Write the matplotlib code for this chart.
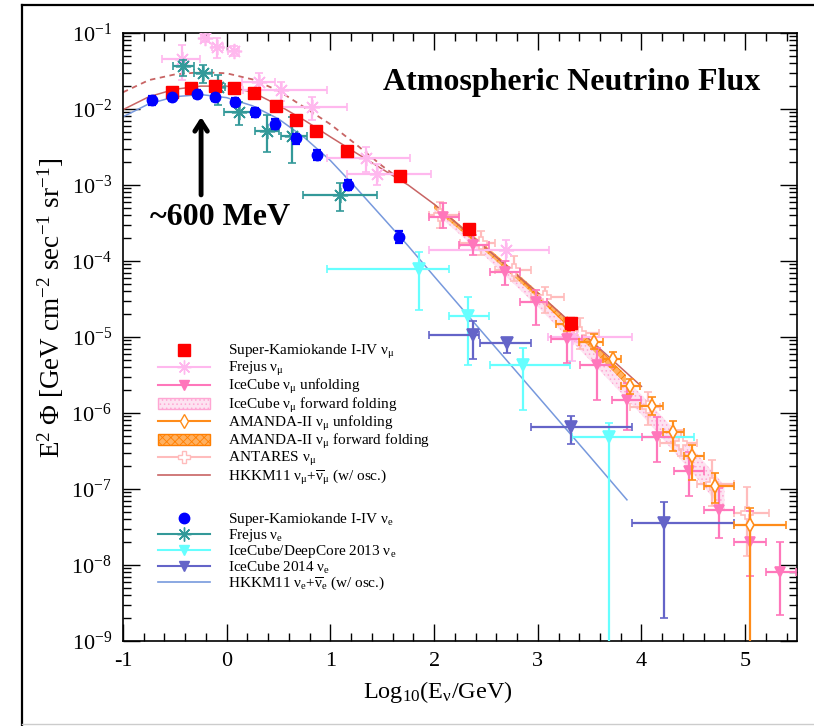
import numpy as np
import matplotlib
matplotlib.use('Agg')
import matplotlib.pyplot as plt
from matplotlib.lines import Line2D
from matplotlib.patches import Patch
import matplotlib.ticker as mticker

plt.rcParams['font.family'] = ['Liberation Serif', 'DejaVu Serif']
plt.rcParams['mathtext.fontset'] = 'custom'
plt.rcParams['mathtext.rm'] = 'Liberation Serif'
plt.rcParams['mathtext.it'] = 'Liberation Serif:italic'
plt.rcParams['mathtext.bf'] = 'Liberation Serif:bold'
plt.rcParams['hatch.linewidth'] = 0.6

# ---------------- data (x = log10(E/GeV), y = E^2 Phi) ----------------
# Super-Kamiokande I-IV nu_mu
sk_mu_x = [-0.53, -0.34, -0.11, 0.07, 0.26, 0.48, 0.67, 0.86, 1.16, 1.67, 2.34, 3.32]
sk_mu_y = [1.67e-2, 1.9e-2, 2.0e-2, 1.9e-2, 1.6e-2, 1.1e-2, 7.2e-3, 5.1e-3, 2.8e-3, 1.3e-3, 2.65e-4, 1.52e-5]
sk_mu_relerr = [0.13, 0.12, 0.12, 0.12, 0.12, 0.13, 0.14, 0.14, 0.13, 0.12, 0.14, 0.18]

# Super-Kamiokande I-IV nu_e
sk_e_x = [-0.72, -0.53, -0.29, -0.11, 0.08, 0.27, 0.47, 0.67, 0.87, 1.17, 1.66]
sk_e_y = [1.31e-2, 1.45e-2, 1.58e-2, 1.44e-2, 1.25e-2, 9.1e-3, 6.4e-3, 4.1e-3, 2.5e-3, 1.0e-3, 2.1e-4]
sk_e_relerr = [0.14, 0.12, 0.12, 0.12, 0.12, 0.13, 0.14, 0.15, 0.15, 0.15, 0.17]

# Frejus nu_mu
fr_mu_x = [-0.43, -0.21, -0.09, 0.07, 0.31, 0.52, 0.82, 1.34, 1.45, 2.69, 3.33]
fr_mu_y = [4.6e-2, 8.5e-2, 6.6e-2, 5.8e-2, 2.28e-2, 1.78e-2, 1.07e-2, 2.25e-3, 1.4e-3, 1.4e-4, 1.0e-5]
fr_mu_xlo = [-0.62, -0.25, -0.14, 0.01, 0.15, 0.16, 0.53, 0.97, 1.16, 1.95, 3.10]
fr_mu_xhi = [-0.26, -0.17, -0.04, 0.12, 0.47, 0.97, 1.16, 1.77, 1.97, 3.11, 3.91]
fr_mu_ylo = [2.4e-2, 7.5e-2, 4.65e-2, 5.0e-2, 1.78e-2, 1.27e-2, 7.2e-3, 1.5e-3, 1.0e-3, 1.0e-4, 4.8e-6]
fr_mu_yhi = [6.95e-2, 9.8e-2, 8.7e-2, 6.8e-2, 2.95e-2, 2.29e-2, 1.45e-2, 3.2e-3, 1.9e-3, 1.9e-4, 1.66e-5]

# Frejus nu_e
fr_e_x = [-0.42, -0.23, -0.08, 0.12, 0.39, 0.63, 1.09]
fr_e_y = [3.63e-2, 2.95e-2, 1.95e-2, 9.1e-3, 5.1e-3, 4.4e-3, 7.4e-4]
fr_e_xlo = [-0.52, -0.32, -0.13, -0.03, 0.27, 0.52, 0.74]
fr_e_xhi = [-0.32, -0.14, -0.02, 0.23, 0.50, 0.77, 1.45]
fr_e_ylo = [2.7e-2, 2.2e-2, 1.12e-2, 6.2e-3, 2.75e-3, 1.95e-3, 4.5e-4]
fr_e_yhi = [4.4e-2, 3.8e-2, 2.8e-2, 1.25e-2, 8.3e-3, 7.9e-3, 1.05e-3]

# IceCube/DeepCore 2013 nu_e
dc_x = [1.85, 2.33, 2.86, 3.69]
dc_y = [7.9e-5, 1.9e-5, 4.3e-6, 4.9e-7]
dc_xlo = [0.97, 2.14, 2.54, 3.33]
dc_xhi = [2.14, 2.53, 3.31, 4.51]
dc_ylo = [2.26e-5, 4.3e-6, 1.1e-6, 1e-11]
dc_yhi = [1.32e-4, 3.4e-5, 7.1e-6, 7.4e-7]

# IceCube 2014 nu_e
ic14_x = [2.38, 2.70, 3.32, 4.22]
ic14_y = [1.07e-5, 8.3e-6, 6.6e-7, 3.6e-8]
ic14_xlo = [1.95, 2.44, 2.93, 3.91]
ic14_xhi = [2.43, 2.93, 3.91, 4.89]
ic14_ylo = [5.2e-6, 6.2e-6, 3.9e-7, 2.0e-9]
ic14_yhi = [1.6e-5, 9.6e-6, 9.1e-7, 6.8e-8]

# IceCube nu_mu unfolding
icu_x = [2.09, 2.38, 2.68, 2.98, 3.28, 3.57, 3.86, 4.15, 4.46, 4.75, 5.05, 5.34]
icu_y = [3.8e-4, 1.6e-4, 7.2e-5, 2.9e-5, 9.5e-6, 4.3e-6, 1.5e-6, 4.9e-7, 1.7e-7, 5.3e-8, 2.0e-8, 8.0e-9]
icu_xlo = [1.95, 2.24, 2.54, 2.83, 3.13, 3.41, 3.72, 4.01, 4.31, 4.60, 4.89, 5.20]
icu_xhi = [2.24, 2.53, 2.83, 3.09, 3.43, 3.73, 4.00, 4.30, 4.60, 4.89, 5.20, 5.49]
icu_ylo = [2.7e-4, 1.2e-4, 4.8e-5, 1.44e-5, 4.6e-6, 1.5e-6, 6.0e-7, 2.3e-7, 8.0e-8, 2.3e-8, 7.1e-9, 2.2e-9]
icu_yhi = [5.8e-4, 2.2e-4, 1.0e-4, 4.2e-5, 1.4e-5, 7.2e-6, 2.5e-6, 8.9e-7, 3.1e-7, 1.02e-7, 5.2e-8, 2.0e-8]

# AMANDA-II nu_mu unfolding
amu_x = [3.28, 3.54, 3.73, 3.89, 4.10, 4.30, 4.49, 4.71, 5.05]
amu_y = [1.48e-5, 8.7e-6, 5.1e-6, 2.24e-6, 1.23e-6, 5.6e-7, 2.7e-7, 1.1e-7, 3.4e-8]
amu_xlo = [3.18, 3.40, 3.63, 3.80, 3.99, 4.21, 4.41, 4.60, 4.89]
amu_xhi = [3.38, 3.63, 3.80, 3.99, 4.21, 4.41, 4.60, 4.89, 5.39]
amu_ylo = [1.2e-5, 6.9e-6, 4.0e-6, 1.8e-6, 9.5e-7, 3.2e-7, 1.3e-7, 6.5e-8, 1e-11]
amu_yhi = [1.8e-5, 1.1e-5, 6.4e-6, 2.8e-6, 1.6e-6, 7.8e-7, 3.8e-7, 1.6e-7, 5.6e-8]

# ANTARES nu_mu
ant_x = [2.06, 2.45, 2.77, 3.07, 3.41, 4.06, 4.38, 4.68, 5.02]
ant_y = [4.0e-4, 1.7e-4, 7.6e-5, 3.4e-5, 1.12e-5, 1.2e-6, 4.0e-7, 1.17e-7, 4.8e-8]
ant_xlo = [1.95, 2.25, 2.59, 2.93, 3.25, 3.89, 4.18, 4.54, 4.89]
ant_xhi = [2.24, 2.59, 2.93, 3.25, 3.59, 4.18, 4.54, 4.89, 5.23]
ant_ylo = [2.7e-4, 1.2e-4, 5.4e-5, 2.1e-5, 7.0e-6, 6.9e-7, 2.7e-7, 5.9e-8, 1.3e-8]
ant_yhi = [6.0e-4, 2.45e-4, 1.15e-4, 4.6e-5, 1.8e-5, 1.9e-6, 6.0e-7, 2.4e-7, 1.07e-7]

# IceCube nu_mu forward folding band
icff_x = [2.0, 2.5, 3.0, 3.5, 4.0, 4.5, 4.8]
icff_hi = [5.5e-4, 1.48e-4, 3.7e-5, 8.3e-6, 1.74e-6, 3.3e-7, 1.12e-7]
icff_lo = [4.4e-4, 1.12e-4, 2.5e-5, 5.0e-6, 9.5e-7, 1.58e-7, 5.0e-8]

# AMANDA-II nu_mu forward folding band
amff_x = [2.0, 2.5, 3.0, 3.5, 3.85]
amff_hi = [5.75e-4, 1.58e-4, 3.98e-5, 9.3e-6, 3.16e-6]
amff_lo = [4.9e-4, 1.32e-4, 3.24e-5, 7.4e-6, 2.4e-6]

# HKKM11 nu_mu + nu_mu-bar (w/ osc.), solid
hk_mu_x = [-1.0, -0.75, -0.5, -0.25, 0.0, 0.25, 0.5, 0.75, 1.0, 1.25, 1.5, 1.75, 2.0, 2.5, 3.0, 3.5, 4.0]
hk_mu_y = [9.8e-3, 1.45e-2, 1.82e-2, 2.0e-2, 2.0e-2, 1.66e-2, 1.12e-2, 7.1e-3, 4.3e-3, 2.63e-3, 1.62e-3, 1.0e-3,
           5.6e-4, 1.48e-4, 3.8e-5, 9.3e-6, 2.24e-6]
# HKKM11 nu_mu, dashed curve
hk_mu2_x = [-1.0, -0.75, -0.5, -0.25, 0.0, 0.25, 0.5, 0.75, 1.0, 1.25, 1.5, 1.67]
hk_mu2_y = [1.66e-2, 2.4e-2, 2.85e-2, 3.05e-2, 2.95e-2, 2.45e-2, 1.74e-2, 1.05e-2, 6.3e-3, 3.4e-3, 1.78e-3,
            1.2e-3]
# HKKM11 nu_e + nu_e-bar (w/ osc.)
hk_e_x = [-1.0, -0.75, -0.5, -0.25, 0.0, 0.25, 0.5, 0.75, 1.0, 1.25, 1.5, 1.75, 2.0, 2.5, 3.0, 3.5, 3.86]
hk_e_y = [7.9e-3, 1.17e-2, 1.45e-2, 1.55e-2, 1.41e-2, 1.1e-2, 7.4e-3, 4.2e-3, 2.1e-3, 9.1e-4, 3.8e-4, 1.58e-4,
          6.3e-5, 1.02e-5, 1.66e-6, 2.7e-7, 7.2e-8]

# colours
c_sk_mu = '#ff0000'
c_fr_mu = '#ffb8ee'
c_icu = '#ff77bb'
c_icff_face = '#fde3f1'
c_icff_hatch = '#ffa6d3'
c_amu = '#ff8c1a'
c_amff_face = '#ffb060'
c_amff_hatch = '#ff7f00'
c_ant = '#ffbcbc'
c_hk_mu = '#c86464'
c_sk_e = '#0000ff'
c_fr_e = '#339999'
c_dc = '#66ffff'
c_ic14 = '#6464c8'
c_hk_e = '#7799dd'

fig = plt.figure(figsize=(8.14, 7.26), dpi=100)
ax = fig.add_axes([123 / 814, 1 - 641 / 726, (797 - 123) / 814, (641 - 33) / 726])
ax.set_yscale('log')
ax.set_xlim(-1, 5.5)
ax.set_ylim(1e-9, 1e-1)


def eb(x, y, xlo, xhi, ylo, yhi, color, marker, ms, mfc=None, z=4, mew=1.2):
    x = np.asarray(x); y = np.asarray(y)
    ax.errorbar(x, y, xerr=[x - np.asarray(xlo), np.asarray(xhi) - x],
                yerr=[y - np.asarray(ylo), np.asarray(yhi) - y],
                fmt='', marker=marker, linestyle='none', color=color, ms=ms,
                mfc=mfc if mfc else color, mec=color, mew=mew,
                elinewidth=1.6, capsize=3, capthick=1.6, zorder=z)


# bands
ax.fill_between(icff_x, icff_lo, icff_hi, facecolor=c_icff_face, edgecolor=c_icff_hatch, hatch='....',
                lw=0, zorder=1)
ax.fill_between(amff_x, amff_lo, amff_hi, facecolor=c_amff_face, edgecolor=c_amff_hatch, hatch='xxxx',
                lw=0, zorder=1.5)

# model curves
ax.plot(hk_mu_x, hk_mu_y, color=c_hk_mu, lw=1.1, zorder=2)
ax.plot(hk_mu2_x, hk_mu2_y, color=c_hk_mu, lw=1.3, ls=(0, (3, 2.5)), zorder=2)
ax.plot(hk_e_x, hk_e_y, color=c_hk_e, lw=1.1, zorder=2)

# data sets
eb(ant_x, ant_y, ant_xlo, ant_xhi, ant_ylo, ant_yhi, c_ant, 'P', 8, mfc='white', z=3)
eb(fr_mu_x, fr_mu_y, fr_mu_xlo, fr_mu_xhi, fr_mu_ylo, fr_mu_yhi, c_fr_mu, (8, 2, 0), 11, z=3)
eb(icu_x, icu_y, icu_xlo, icu_xhi, icu_ylo, icu_yhi, c_icu, 'v', 7, z=3.5)
eb(amu_x, amu_y, amu_xlo, amu_xhi, amu_ylo, amu_yhi, c_amu, 'd', 7, mfc='white', z=3.6)
eb(dc_x, dc_y, dc_xlo, dc_xhi, dc_ylo, dc_yhi, c_dc, 'v', 8, z=3.4)
eb(ic14_x, ic14_y, ic14_xlo, ic14_xhi, ic14_ylo, ic14_yhi, c_ic14, 'v', 8, z=3.5)
eb(fr_e_x, fr_e_y, fr_e_xlo, fr_e_xhi, fr_e_ylo, fr_e_yhi, c_fr_e, (8, 2, 0), 11, z=3.7)

sk_mu_y_a = np.asarray(sk_mu_y); sk_mu_e = sk_mu_y_a * np.asarray(sk_mu_relerr)
ax.errorbar(sk_mu_x, sk_mu_y, yerr=sk_mu_e, fmt='s', color=c_sk_mu, ms=8, elinewidth=1.6, capsize=3,
            capthick=1.6, zorder=5)
sk_e_y_a = np.asarray(sk_e_y); sk_e_e = sk_e_y_a * np.asarray(sk_e_relerr)
ax.errorbar(sk_e_x, sk_e_y, yerr=sk_e_e, fmt='o', color=c_sk_e, ms=7.5, elinewidth=1.6, capsize=3,
            capthick=1.6, zorder=5)

# axes styling
ax.xaxis.set_major_locator(mticker.MultipleLocator(1))
ax.xaxis.set_minor_locator(mticker.MultipleLocator(0.2))
ax.yaxis.set_major_locator(mticker.LogLocator(base=10, numticks=20))
ax.yaxis.set_minor_locator(mticker.LogLocator(base=10, subs=np.arange(2, 10), numticks=20))
ax.yaxis.set_minor_formatter(mticker.NullFormatter())
ax.xaxis.set_major_formatter(mticker.FuncFormatter(lambda v, p: '%d' % v))
ax.tick_params(which='both', direction='in', top=True, right=True, width=1.0, labelsize=16)
ax.tick_params(which='major', length=12, pad=8)
ax.tick_params(which='minor', length=6)
for s in ax.spines.values():
    s.set_linewidth(1.2)

ax.set_xlabel(r'Log$_{10}$(E$_{\mathrm{\nu}}$/GeV)', fontsize=17.5)
ax.xaxis.set_label_coords((438 - 123) / 674, -0.063)
ax.set_ylabel(r'E$^{2}$ $\mathrm{\Phi}$ [GeV cm$^{-2}$ sec$^{-1}$ sr$^{-1}$]', fontsize=19.5)
ax.yaxis.set_label_coords(-0.085, (641 - 308) / 608)

ax.text(0.945, 0.918, 'Atmospheric Neutrino Flux', transform=ax.transAxes, ha='right', va='center',
        fontsize=23, fontweight='bold')
ax.text(0.144, 0.696, '~600 MeV', transform=ax.transAxes, ha='center', va='center', fontsize=23,
        fontweight='bold')
ax.annotate('', xy=(-0.247, 10 ** -2.105), xytext=(-0.247, 10 ** -3.13),
            arrowprops=dict(arrowstyle='->,head_length=0.7,head_width=0.45', lw=3.5, color='k',
                            shrinkA=0, shrinkB=0))

# legends
nm = r'$\mathrm{\nu}_{\mathrm{\mu}}$'
ne = r'$\mathrm{\nu}_{\mathrm{e}}$'
h1 = [Line2D([], [], color=c_sk_mu, marker='s', ls='none', ms=8),
      Line2D([], [], color=c_fr_mu, marker=(8, 2, 0), ms=10, lw=1.5),
      Line2D([], [], color=c_icu, marker='v', ms=7, lw=1.5),
      Patch(facecolor=c_icff_face, edgecolor=c_icff_hatch, hatch='....', lw=1),
      Line2D([], [], color=c_amu, marker='d', mfc='white', ms=7, lw=1.5),
      Patch(facecolor=c_amff_face, edgecolor=c_amff_hatch, hatch='xxxx', lw=1),
      Line2D([], [], color=c_ant, marker='P', mfc='white', ms=8, lw=1.5),
      Line2D([], [], color=c_hk_mu, lw=1.2)]
l1 = ['Super-Kamiokande I-IV ' + nm, 'Frejus ' + nm, 'IceCube ' + nm + ' unfolding',
      'IceCube ' + nm + ' forward folding', 'AMANDA-II ' + nm + ' unfolding',
      'AMANDA-II ' + nm + ' forward folding', 'ANTARES ' + nm,
      r'HKKM11 $\mathrm{\nu}_{\mathrm{\mu}}$+$\overline{\mathrm{\nu}}_{\mathrm{\mu}}$ (w/ osc.)']
h2 = [Line2D([], [], color=c_sk_e, marker='o', ls='none', ms=7.5),
      Line2D([], [], color=c_fr_e, marker=(8, 2, 0), ms=10, lw=1.5),
      Line2D([], [], color=c_dc, marker='v', ms=7, lw=1.5),
      Line2D([], [], color=c_ic14, marker='v', ms=7, lw=1.5),
      Line2D([], [], color=c_hk_e, lw=1.2)]
l2 = ['Super-Kamiokande I-IV ' + ne, 'Frejus ' + ne, 'IceCube/DeepCore 2013 ' + ne,
      'IceCube 2014 ' + ne,
      r'HKKM11 $\mathrm{\nu}_{\mathrm{e}}$+$\overline{\mathrm{\nu}}_{\mathrm{e}}$ (w/ osc.)']
kw = dict(frameon=False, fontsize=11, handlelength=3.4, handletextpad=1.15, labelspacing=-0.05,
          borderpad=0, borderaxespad=0, loc='upper left', bbox_transform=fig.transFigure)
leg1 = ax.legend(h1, l1, bbox_to_anchor=(158 / 814, 1 - 343 / 726), **kw)
ax.add_artist(leg1)
ax.legend(h2, l2, bbox_to_anchor=(158 / 814, 1 - 511 / 726), **kw)

# outer frame
fig.add_artist(Line2D([22 / 814, 22 / 814], [0, 1 - 5 / 726], transform=fig.transFigure, color='k', lw=1.6))
fig.add_artist(Line2D([22 / 814, 1], [1 - 5 / 726, 1 - 5 / 726], transform=fig.transFigure, color='k', lw=1.6))
fig.add_artist(Line2D([22 / 814, 1], [1 - 724 / 726, 1 - 724 / 726], transform=fig.transFigure,
                      color='#cccccc', lw=1.0))

fig.savefig('out.png', dpi=100)
